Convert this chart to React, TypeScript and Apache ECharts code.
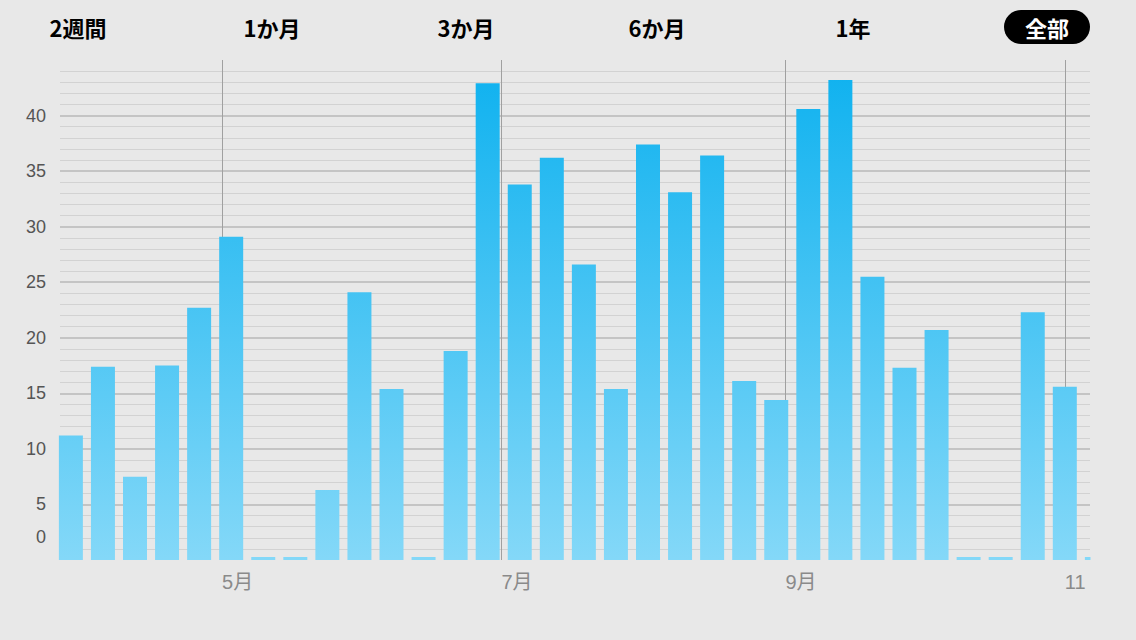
import React, { useEffect, useRef } from 'react';
import * as echarts from 'echarts';

// Weekly bars (date of each week) and their values
const weekDates: string[] = [
  '2014-03-29', '2014-04-05', '2014-04-12', '2014-04-19', '2014-04-26',
  '2014-05-03', '2014-05-10', '2014-05-17', '2014-05-24', '2014-05-31',
  '2014-06-07', '2014-06-14', '2014-06-21', '2014-06-28', '2014-07-05',
  '2014-07-12', '2014-07-19', '2014-07-26', '2014-08-02', '2014-08-09',
  '2014-08-16', '2014-08-23', '2014-08-30', '2014-09-06', '2014-09-13',
  '2014-09-20', '2014-09-27', '2014-10-04', '2014-10-11', '2014-10-18',
  '2014-10-25', '2014-11-01', '2014-11-08',
];
const weekValues: number[] = [
  11.2, 17.4, 7.5, 17.5, 22.7, 29.1, 0, 0, 6.3, 24.1,
  15.4, 0, 18.8, 42.9, 33.8, 36.2, 26.6, 15.4, 37.4, 33.1,
  36.4, 16.1, 14.4, 40.6, 43.2, 25.5, 17.3, 20.7, 0, 0,
  22.3, 15.6, 0,
];
// Month ticks shown on the x axis
const monthTicks: string[] = ['2014-05-01', '2014-07-01', '2014-09-01', '2014-11-01'];
// Period selector labels
const periodLabels: string[] = ['2週間', '1か月', '3か月', '6か月', '1年', '全部'];
const selectedPeriod = '全部';

const toTs = (s: string): number => {
  const [y, m, d] = s.split('-').map(Number);
  return new Date(y, m - 1, d).getTime();
};

const BG = '#e8e8e8';
const FONT = '"Liberation Sans", "Noto Sans CJK JP", sans-serif';
const HEADER_FONT = '"Noto Sans CJK JP", "Liberation Sans", sans-serif';
const headerX = [78, 272, 466, 657, 853, 1047];

export default function App() {
  const ref = useRef<HTMLDivElement>(null);

  useEffect(() => {
    document.body.style.margin = '0';
    document.body.style.background = BG;
    if (!ref.current) return;
    const chart = echarts.init(ref.current, undefined, { renderer: 'svg' });

    const axisMin = new Date(2014, 2, 26, 15).getTime();
    const axisMax = new Date(2014, 10, 6, 12).getTime();
    const tickVals = monthTicks.map(toTs);

    const graphic: any[] = periodLabels.map((t, i) => {
      if (t === selectedPeriod) {
        return {
          type: 'group',
          children: [
            {
              type: 'rect',
              shape: { x: headerX[i] - 43, y: 10, width: 86, height: 34, r: 17 },
              style: { fill: '#000' },
            },
            {
              type: 'text',
              style: {
                text: t, x: headerX[i], y: 27, align: 'center', verticalAlign: 'middle',
                fill: '#fff', fontSize: 22, fontWeight: 'bold', fontFamily: HEADER_FONT,
              },
            },
          ],
        };
      }
      return {
        type: 'text',
        style: {
          text: t, x: headerX[i], y: 27, align: 'center', verticalAlign: 'middle',
          fill: '#000', fontSize: 22, fontWeight: 'bold', fontFamily: HEADER_FONT,
        },
      };
    });
    // mask the part of the last bar that falls outside the plot area
    graphic.push({
      type: 'rect',
      z: 100,
      shape: { x: 1090.5, y: 40, width: 46, height: 530 },
      style: { fill: BG },
    });

    chart.setOption({
      animation: false,
      backgroundColor: BG,
      grid: {
        left: 60, right: 46, top: 60, bottom: 80,
        containLabel: false, outerBoundsMode: 'none',
      },
      xAxis: {
        type: 'value',
        min: axisMin,
        max: axisMax,
        axisLine: { show: false },
        axisTick: { show: false, customValues: tickVals },
        axisLabel: {
          customValues: tickVals,
          align: 'left',
          margin: 12,
          color: '#8a8a8a',
          fontSize: 20,
          fontFamily: FONT,
          formatter: (v: number) => {
            const m = new Date(v).getMonth() + 1;
            return m === 11 ? '11' : `${m}月`;
          },
        },
        splitLine: { show: true, showMinLine: true, showMaxLine: true, lineStyle: { color: '#a0a0a0', width: 1 } },
      },
      yAxis: {
        type: 'value',
        min: 0,
        max: 45,
        interval: 5,
        axisLine: { show: false },
        axisTick: { show: false },
        axisLabel: {
          showMaxLabel: false,
          margin: 14,
          color: '#555',
          fontSize: 18,
          fontFamily: FONT,
          formatter: (v: number) => (v === 0 ? '{zero|0}' : String(v)),
          rich: {
            zero: { padding: [0, 0, 46, 0], color: '#555', fontSize: 18, fontFamily: FONT },
          },
        },
        splitLine: {
          show: true, showMinLine: false, showMaxLine: false,
          lineStyle: { color: '#b8b8b8', width: 1.5 },
        },
        minorTick: { show: false, splitNumber: 5 },
        minorSplitLine: { show: true, lineStyle: { color: '#d2d2d2', width: 1 } },
      },
      series: [
        {
          type: 'bar',
          barWidth: 24,
          barMinHeight: 3,
          clip: true,
          data: weekDates.map((d, i) => [toTs(d), weekValues[i]]),
          itemStyle: {
            color: new echarts.graphic.LinearGradient(0, 60, 0, 560, [
              { offset: 0, color: '#0db1ef' },
              { offset: 1, color: '#84d8f8' },
            ], true),
          },
        },
      ],
      graphic,
    });

    return () => chart.dispose();
  }, []);

  return <div ref={ref} style={{ width: 1136, height: 640 }} />;
}
